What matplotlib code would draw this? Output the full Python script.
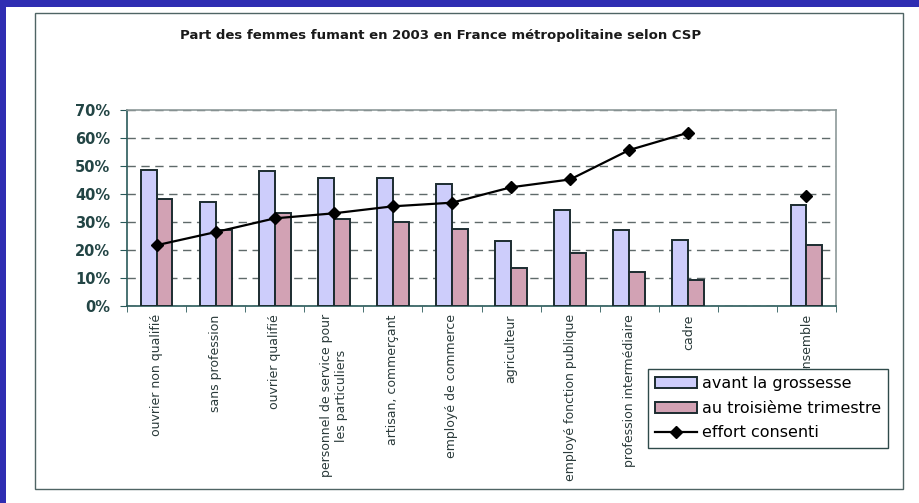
import matplotlib.pyplot as plt
import numpy as np
import pandas as pd
from matplotlib.patches import Rectangle

# Data (percent)
categories = [
    "ouvrier non qualifié",
    "sans profession",
    "ouvrier qualifié",
    "personnel de service pour\nles particuliers",
    "artisan, commerçant",
    "employé de commerce",
    "agriculteur",
    "employé fonction publique",
    "profession intermédiaire",
    "cadre",
    "",
    "ensemble",
]
avant = [48.6, 37.0, 48.1, 45.7, 45.6, 43.7, 23.1, 34.2, 27.0, 23.6, np.nan, 36.1]
troisieme = [38.1, 27.0, 33.3, 31.0, 30.1, 27.5, 13.5, 19.0, 12.1, 9.3, np.nan, 21.8]
effort = [21.7, 26.4, 31.3, 33.1, 35.6, 36.9, 42.4, 45.2, 55.7, 61.9, np.nan, 39.4]

df = pd.DataFrame(
    {"avant": avant, "troisieme": troisieme, "effort": effort}, index=categories
)
x = np.arange(len(df))

plt.rcParams["font.family"] = ["DejaVu Sans"]

fig = plt.figure(figsize=(9.19, 5.03), dpi=100)
fig.patch.set_facecolor("white")

W, H = 919, 503
# Blue border (top and left) and chart frame
fig.patches.append(Rectangle((0, 1 - 7 / H), 1, 7 / H, transform=fig.transFigure,
                             facecolor="#2f2db2", edgecolor="none", zorder=0))
fig.patches.append(Rectangle((0, 0), 6 / W, 1, transform=fig.transFigure,
                             facecolor="#2f2db2", edgecolor="none", zorder=0))
fig.patches.append(Rectangle((35 / W, 1 - 489 / H), (903 - 35) / W, (489 - 13) / H,
                             transform=fig.transFigure, facecolor="none",
                             edgecolor="#4f6464", linewidth=1.0, zorder=0))

ax = fig.add_axes([127 / W, 1 - 306 / H, (836 - 127) / W, (306 - 110) / H])

bw = 0.27
m = df["avant"].notna()
b1 = ax.bar(x[m] - bw / 2, df["avant"][m], width=bw, color="#cdcdfb",
            edgecolor="#1c2c30", linewidth=1.4, zorder=3, label="avant la grossesse")
b2 = ax.bar(x[m] + bw / 2, df["troisieme"][m], width=bw, color="#d2a2b4",
            edgecolor="#1c2c30", linewidth=1.4, zorder=3,
            label="au troisième trimestre")
(ln,) = ax.plot(x, df["effort"], color="black", linewidth=1.6, marker="D",
                markersize=6, zorder=4, label="effort consenti")

ax.set_xlim(-0.5, len(df) - 0.5)
ax.set_ylim(0, 70)
ax.set_yticks(range(0, 71, 10))
ax.set_yticklabels([f"{v}%" for v in range(0, 71, 10)], fontsize=10.5,
                   fontweight="bold", color="#234545")
ax.yaxis.grid(True, linestyle=(0, (6, 4)), color="#5f6a6a", linewidth=1.0, zorder=0)
ax.set_axisbelow(True)

ax.set_xticks(x)
ax.set_xticklabels(df.index, rotation=90, fontsize=9, color="#2a3a3a",
                   va="top", ha="center", multialignment="center")
ax.set_xticks(np.arange(-0.5, len(df) + 0.5), minor=True)
ax.tick_params(axis="x", which="major", length=0, pad=6)
ax.tick_params(axis="x", which="minor", length=4, color="#2a5a5a")
ax.tick_params(axis="y", length=5, color="#2a5a5a", pad=7)

for side in ["left", "bottom"]:
    ax.spines[side].set_color("#2a5a5a")
    ax.spines[side].set_linewidth(1.2)
for side in ["top", "right"]:
    ax.spines[side].set_color("#8e9a9a")
    ax.spines[side].set_linewidth(1.2)

fig.text(441 / W, 1 - 36 / H,
         "Part des femmes fumant en 2003 en France métropolitaine selon CSP",
         ha="center", va="center", fontsize=9.5, fontweight="bold", color="#1a1a1a")

leg = fig.legend(handles=[b1, b2, ln],
                 loc="upper left", bbox_to_anchor=(648 / W, 1 - 369 / H),
                 fontsize=11.5, frameon=True, fancybox=False, framealpha=1,
                 edgecolor="#2f4a4a", handlelength=2.6, handleheight=0.7,
                 labelspacing=0.6, borderpad=0.45, handletextpad=0.3,
                 borderaxespad=0)
leg.get_frame().set_linewidth(1.0)
leg.set_zorder(10)

fig.savefig("out.png", dpi=100)
